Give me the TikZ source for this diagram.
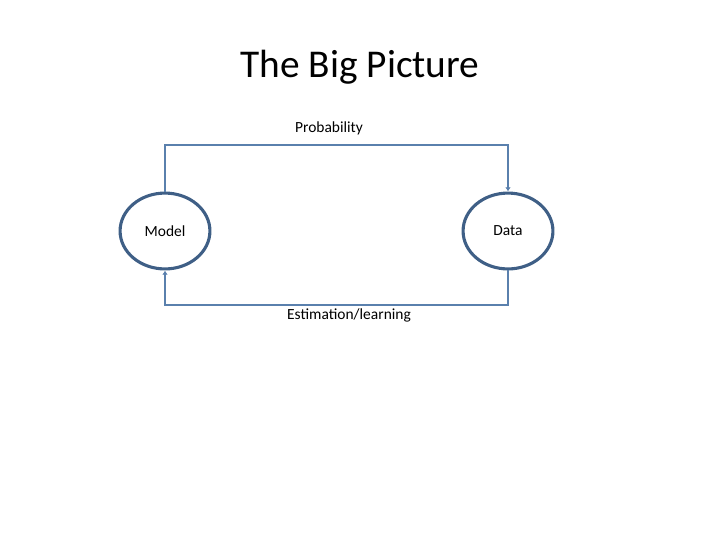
\documentclass[tikz,border=0pt]{standalone}
\usepackage{fontspec}
\setmainfont{Carlito}
\usetikzlibrary{shapes.geometric,arrows.meta}
\definecolor{ringblue}{HTML}{3F5F86}
\definecolor{lineblue}{HTML}{5A80AD}
\begin{document}
\begin{tikzpicture}[x=0.025cm,y=-0.025cm]
    \useasboundingbox (0,0) rectangle (720,540);
    \tikzset{state/.style={draw=ringblue, line width=2.2pt, ellipse, minimum width=90pt*0.71, minimum height=76pt*0.71, inner sep=0pt, font=\fontsize{11}{13}\selectfont},
             link/.style={draw=lineblue, line width=1.3pt, -{Latex[length=3pt,width=4pt]}},
             tag/.style={font=\fontsize{11}{13}\selectfont}}
    % Title
    \node[font=\fontsize{28}{32}\selectfont] (title) at (360,67) {The Big Picture};
    % States
    \node[state] (model) at (165,231) {Model};
    \node[state] (data) at (508,231) {Data};
    % Links
    \coordinate (top) at (0,145);
    \coordinate (bot) at (0,305);
    \draw[link] (model.north) |- (top -| model) -- (top -| data) -- (data.north);
    \draw[link] (data.south) |- (bot -| data) -- (bot -| model) -- (model.south);
    % Labels
    \node[tag] (prob) at (329,128) {Probability};
    \node[tag] (est) at (349,315) {Estimation/learning};
\end{tikzpicture}
\end{document}
